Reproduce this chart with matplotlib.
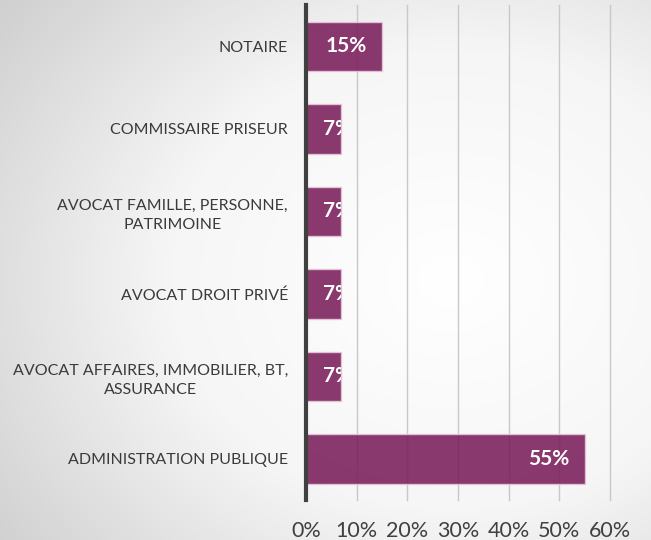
import numpy as np
import matplotlib.pyplot as plt
from matplotlib.colors import LinearSegmentedColormap

categories = ["ADMINISTRATION PUBLIQUE",
              "AVOCAT AFFAIRES, IMMOBILIER, BT,\nASSURANCE",
              "AVOCAT DROIT PRIVÉ",
              "AVOCAT FAMILLE, PERSONNE,\nPATRIMOINE",
              "COMMISSAIRE PRISEUR",
              "NOTAIRE"]
values = [0.55, 0.07, 0.07, 0.07, 0.07, 0.15]
ticks = [0, 0.1, 0.2, 0.3, 0.4, 0.5, 0.6]

plt.rcParams['font.family'] = ['Lato', 'DejaVu Sans']

fig = plt.figure(figsize=(6.51, 5.40), dpi=100)

# radial grey background
bg = fig.add_axes([0, 0, 1, 1])
yy, xx = np.mgrid[0:540, 0:651]
r = np.hypot((xx - 450) / 560.0, (yy - 280) / 460.0)
r = np.clip(r, 0, 1)
cmap = LinearSegmentedColormap.from_list("bg", ["#ffffff", "#f6f6f6", "#d0d0d0"])
bg.imshow(r, cmap=cmap, vmin=0, vmax=1, aspect='auto', extent=[0, 651, 540, 0])
bg.axis('off')

W, H = 651, 540
ax = fig.add_axes([306 / W, 1 - 500 / H, (610 - 306) / W, (500 - 5) / H])
ax.patch.set_alpha(0)

y = np.arange(len(categories))
bars = ax.barh(y, values, height=0.6, color="#7a1e5a", alpha=0.88,
               edgecolor="#e8c8dc", linewidth=1.0, zorder=3)

ax.set_xlim(0, 0.6)
ax.set_ylim(-0.5, 5.5)
ax.set_xticks(ticks)
ax.set_xticklabels([f"{int(t*100)}%" for t in ticks], fontsize=15.5, color="#404040")
ax.set_yticks(y)
ax.set_yticklabels(categories, fontsize=11.5, color="#3a3a3a", linespacing=1.5)
for lbl in ax.get_yticklabels():
    lbl.set_multialignment('center')
ax.tick_params(axis='y', length=0, pad=13)
ax.tick_params(axis='x', length=0, pad=15)

ax.grid(axis='x', color="#c8c8c8", linewidth=1.0, zorder=1)
for gl in ax.get_xgridlines():
    gl.set_clip_on(False)
for s in ['top', 'right', 'bottom']:
    ax.spines[s].set_visible(False)
ax.spines['left'].set_color("#404040")
ax.spines['left'].set_linewidth(3)
ax.spines['left'].set_zorder(4)

for b, v in zip(bars, values):
    cy = b.get_y() + b.get_height() / 2
    if v < 0.1:
        t = ax.annotate(f"{int(round(v*100))}%", (0, cy), xytext=(12, 0),
                        textcoords='offset points', ha='left', va='center',
                        color='white', fontsize=15, fontweight='bold', zorder=5)
    else:
        t = ax.annotate(f"{int(round(v*100))}%", (v, cy), xytext=(-11, 0),
                        textcoords='offset points', ha='right', va='center',
                        color='white', fontsize=15, fontweight='bold', zorder=5)
    t.set_clip_path(b)

fig.savefig("out.png", dpi=100)
